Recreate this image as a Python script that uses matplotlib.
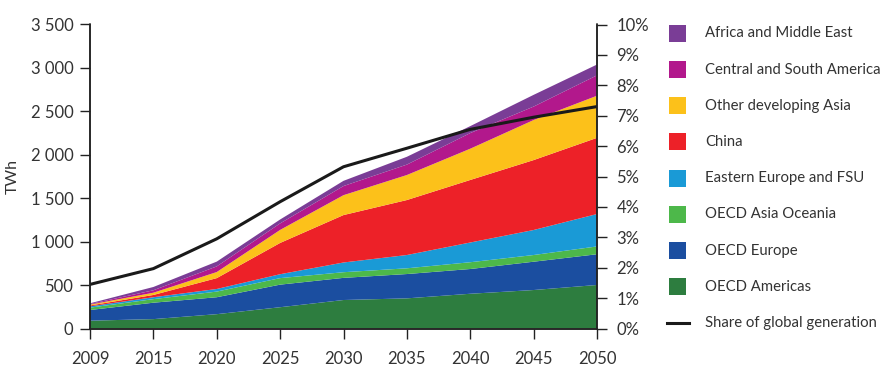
import numpy as np
import matplotlib
matplotlib.use("Agg")
import matplotlib.pyplot as plt
from matplotlib.patches import Rectangle
from matplotlib.lines import Line2D

plt.rcParams['font.family'] = ['Lato', 'DejaVu Sans']

years = ['2009', '2015', '2020', '2025', '2030', '2035', '2040', '2045', '2050']

# TWh par région (lecture du graphique)
oecd_americas = [90, 108, 165, 245, 328, 347, 400, 443, 501]
oecd_europe = [123, 189, 195, 260, 255, 280, 285, 326, 354]
oecd_asia_oceania = [27, 41, 65, 75, 65, 66, 78, 77, 90]
eastern_europe_fsu = [15, 22, 30, 45, 112, 153, 227, 288, 373]
china = [10, 26, 125, 360, 546, 633, 720, 805, 877]
other_dev_asia = [10, 26, 70, 150, 229, 288, 360, 461, 485]
central_south_america = [7, 28, 65, 75, 105, 120, 180, 155, 235]
africa_middle_east = [8, 38, 55, 45, 60, 90, 80, 135, 124]

# part de la production mondiale, %
share_global = [1.45, 1.97, 2.95, 4.17, 5.32, 5.93, 6.55, 6.95, 7.3]

labels = ['OECD Americas', 'OECD Europe', 'OECD Asia Oceania', 'Eastern Europe and FSU',
          'China', 'Other developing Asia', 'Central and South America', 'Africa and Middle East']
colors = ['#2d7d3f', '#1b4ea0', '#4db84a', '#1a9ad6', '#ed2128', '#fcc11a', '#b2188c', '#7a3d96']
series = [oecd_americas, oecd_europe, oecd_asia_oceania, eastern_europe_fsu,
          china, other_dev_asia, central_south_america, africa_middle_east]

txt_color = '#333333'
W, H = 890, 379
fig = plt.figure(figsize=(W / 100, H / 100), dpi=100)
ax = fig.add_axes([90 / W, 1 - 328.5 / H, (597 - 90) / W, (328.5 - 24.5) / H])

x = np.arange(len(years))
ax.stackplot(x, *series, colors=colors, linewidth=0)

ax.set_xlim(0, len(years) - 1)
ax.set_ylim(0, 3500)
ax.set_xticks(x)
ax.set_xticklabels(years)
yt = np.arange(0, 3501, 500)
ax.set_yticks(yt)
ax.set_yticklabels([f"{v:,.0f}".replace(',', ' ') for v in yt])
ax.set_ylabel('TWh', color=txt_color, fontsize=11.5, labelpad=8)

ax2 = ax.twinx()
ax2.plot(x, share_global, color='#1a1a1a', lw=2.2, solid_capstyle='round')
ax2.set_ylim(0, 10)
ax2.set_yticks(range(0, 11))
ax2.set_yticklabels([f"{v}%" for v in range(0, 11)])

for a in (ax, ax2):
    a.spines['top'].set_visible(False)
    for s in ('left', 'right', 'bottom'):
        a.spines[s].set_color('#222222')
        a.spines[s].set_linewidth(1.1)
    a.tick_params(colors='#222222', labelcolor=txt_color, labelsize=12,
                  length=7, width=1.0, direction='out')
ax.tick_params(axis='y', pad=5)
ax.tick_params(axis='x', pad=9)
ax2.tick_params(axis='y', pad=7)

# légende manuelle, à droite
leg_items = list(zip(labels, colors))[::-1]
y0, step = 33.3, 36.2
for i, (lab, col) in enumerate(leg_items):
    yc = y0 + i * step
    fig.add_artist(Rectangle((669 / W, 1 - (yc + 8.5) / H), 17 / W, 17 / H,
                             transform=fig.transFigure, color=col, lw=0))
    fig.text(705 / W, 1 - yc / H, lab, va='center', ha='left',
             fontsize=10.7, color=txt_color)
yc = y0 + len(leg_items) * step
fig.add_artist(Line2D([667 / W, 689 / W], [1 - yc / H, 1 - yc / H],
                      transform=fig.transFigure, color='#1a1a1a', lw=2.2))
fig.text(705 / W, 1 - yc / H, 'Share of global generation', va='center', ha='left',
         fontsize=10.7, color=txt_color)

fig.savefig('out.png', dpi=100)
